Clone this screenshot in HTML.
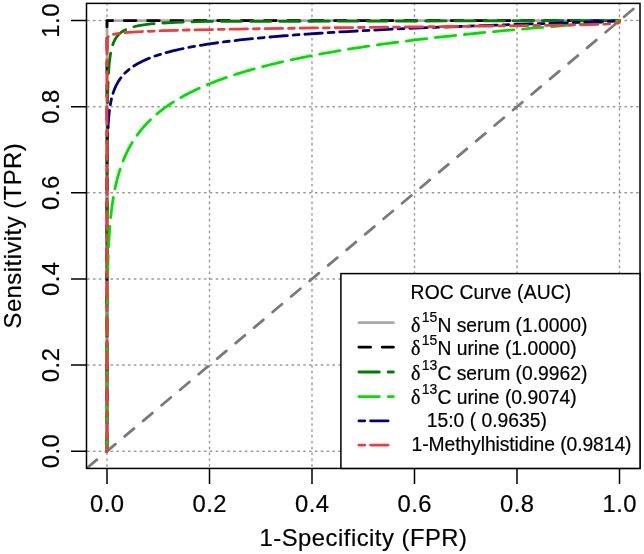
<!DOCTYPE html>
<html><head><meta charset="utf-8"><style>
html,body{margin:0;padding:0;background:#fff;}
body{width:644px;height:554px;overflow:hidden;}
svg{display:block;filter:blur(0.3px);font-family:"Liberation Sans",Arial,sans-serif;fill:#000;}
svg text{fill:#000;stroke:#000;stroke-width:0.2px;}
</style></head><body>
<svg width="644" height="554" viewBox="0 0 644 554">
<defs><clipPath id="pr"><rect x="86.50" y="3.38" width="553.50" height="465.05"/></clipPath></defs>
<path d="M107.00,3.38 L107.00,468.42 M209.50,3.38 L209.50,468.42 M312.00,3.38 L312.00,468.42 M414.50,3.38 L414.50,468.42 M517.00,3.38 L517.00,468.42 M619.50,3.38 L619.50,468.42" stroke="#999999" stroke-width="1.46" stroke-dasharray="1.46 4.38" stroke-linecap="round" fill="none"/>
<path d="M86.50,451.20 L640.00,451.20 M86.50,365.08 L640.00,365.08 M86.50,278.96 L640.00,278.96 M86.50,192.84 L640.00,192.84 M86.50,106.72 L640.00,106.72 M86.50,20.60 L640.00,20.60" stroke="#999999" stroke-width="1.46" stroke-dasharray="1.46 4.38" stroke-dashoffset="-1.2" stroke-linecap="round" fill="none"/>
<g clip-path="url(#pr)"><path d="M86.50,468.42 L640.00,3.38" stroke="#7A7A7A" stroke-width="2.80" stroke-dasharray="12.08 12.08" stroke-dashoffset="-1.5" stroke-linecap="round" fill="none"/>
<path d="M107.00,451.20 L107.00,450.36 L107.00,449.51 L107.00,448.67 L107.00,447.83 L107.00,446.99 L107.00,446.14 L107.00,445.30 L107.00,444.46 L107.00,443.62 L107.00,442.77 L107.00,441.93 L107.00,441.09 L107.00,440.25 L107.00,439.40 L107.00,438.56 L107.00,437.72 L107.00,436.87 L107.00,436.03 L107.00,435.19 L107.00,434.35 L107.00,433.50 L107.00,432.66 L107.00,431.82 L107.00,430.98 L107.00,430.13 L107.00,429.29 L107.00,428.45 L107.00,427.61 L107.00,426.76 L107.00,425.92 L107.00,425.08 L107.00,424.23 L107.00,423.39 L107.00,422.55 L107.00,421.71 L107.00,420.86 L107.00,420.02 L107.00,419.18 L107.00,418.34 L107.00,417.49 L107.00,416.65 L107.00,415.81 L107.00,414.97 L107.00,414.12 L107.00,413.28 L107.00,412.44 L107.00,411.59 L107.00,410.75 L107.00,409.91 L107.00,409.07 L107.00,408.22 L107.00,407.38 L107.00,406.54 L107.00,405.70 L107.00,404.85 L107.00,404.01 L107.00,403.17 L107.00,402.33 L107.00,401.48 L107.00,400.64 L107.00,399.80 L107.00,398.95 L107.00,398.11 L107.00,397.27 L107.00,396.43 L107.00,395.58 L107.00,394.74 L107.00,393.90 L107.00,393.06 L107.00,392.21 L107.00,391.37 L107.00,390.53 L107.00,389.69 L107.00,388.84 L107.00,388.00 L107.00,387.16 L107.00,386.32 L107.00,385.47 L107.00,384.63 L107.00,383.79 L107.00,382.94 L107.00,382.10 L107.00,381.26 L107.00,380.42 L107.00,379.57 L107.00,378.73 L107.00,377.89 L107.00,377.05 L107.00,376.20 L107.00,375.36 L107.00,374.52 L107.00,373.68 L107.00,372.83 L107.00,371.99 L107.00,371.15 L107.00,370.30 L107.00,369.46 L107.00,368.62 L107.00,367.78 L107.00,366.93 L107.00,366.09 L107.00,365.25 L107.00,364.41 L107.00,363.56 L107.00,362.72 L107.00,361.88 L107.00,361.04 L107.00,360.19 L107.00,359.35 L107.00,358.51 L107.00,357.66 L107.00,356.82 L107.00,355.98 L107.00,355.14 L107.00,354.29 L107.00,353.45 L107.00,352.61 L107.00,351.77 L107.00,350.92 L107.00,350.08 L107.00,349.24 L107.00,348.40 L107.00,347.55 L107.00,346.71 L107.00,345.87 L107.00,345.02 L107.00,344.18 L107.00,343.34 L107.00,342.50 L107.00,341.65 L107.00,340.81 L107.00,339.97 L107.00,339.13 L107.00,338.28 L107.00,337.44 L107.00,336.60 L107.00,335.76 L107.00,334.91 L107.00,334.07 L107.00,333.23 L107.00,332.38 L107.00,331.54 L107.00,330.70 L107.00,329.86 L107.00,329.01 L107.00,328.17 L107.00,327.33 L107.00,326.49 L107.00,325.64 L107.00,324.80 L107.00,323.96 L107.00,323.12 L107.00,322.27 L107.00,321.43 L107.00,320.59 L107.00,319.74 L107.00,318.90 L107.00,318.06 L107.00,317.22 L107.00,316.37 L107.00,315.53 L107.00,314.69 L107.00,313.85 L107.00,313.00 L107.00,312.16 L107.00,311.32 L107.00,310.48 L107.00,309.63 L107.00,308.79 L107.00,307.95 L107.00,307.10 L107.00,306.26 L107.00,305.42 L107.00,304.58 L107.00,303.73 L107.00,302.89 L107.00,302.05 L107.00,301.21 L107.00,300.36 L107.00,299.52 L107.00,298.68 L107.00,297.84 L107.00,296.99 L107.00,296.15 L107.00,295.31 L107.00,294.46 L107.00,293.62 L107.00,292.78 L107.00,291.94 L107.00,291.09 L107.00,290.25 L107.00,289.41 L107.00,288.57 L107.00,287.72 L107.00,286.88 L107.00,286.04 L107.00,285.20 L107.00,284.35 L107.00,283.51 L107.00,282.67 L107.00,281.83 L107.00,280.98 L107.00,280.14 L107.00,279.30 L107.00,278.45 L107.00,277.61 L107.00,276.77 L107.00,275.93 L107.00,275.08 L107.00,274.24 L107.00,273.40 L107.00,272.56 L107.00,271.71 L107.00,270.87 L107.00,270.03 L107.00,269.19 L107.00,268.34 L107.00,267.50 L107.00,266.66 L107.00,265.81 L107.00,264.97 L107.00,264.13 L107.00,263.29 L107.00,262.44 L107.00,261.60 L107.00,260.76 L107.00,259.92 L107.00,259.07 L107.00,258.23 L107.00,257.39 L107.00,256.55 L107.00,255.70 L107.00,254.86 L107.00,254.02 L107.00,253.17 L107.00,252.33 L107.00,251.49 L107.00,250.65 L107.00,249.80 L107.00,248.96 L107.00,248.12 L107.00,247.28 L107.00,246.43 L107.00,245.59 L107.00,244.75 L107.00,243.91 L107.00,243.06 L107.00,242.22 L107.00,241.38 L107.00,240.53 L107.00,239.69 L107.00,238.85 L107.00,238.01 L107.00,237.16 L107.00,236.32 L107.00,235.48 L107.00,234.64 L107.00,233.79 L107.00,232.95 L107.00,232.11 L107.00,231.27 L107.00,230.42 L107.00,229.58 L107.00,228.74 L107.01,227.89 L107.01,227.05 L107.01,226.21 L107.01,225.37 L107.01,224.52 L107.01,223.68 L107.01,222.84 L107.01,222.00 L107.01,221.15 L107.01,220.31 L107.01,219.47 L107.01,218.63 L107.01,217.78 L107.01,216.94 L107.01,216.10 L107.01,215.25 L107.01,214.41 L107.01,213.57 L107.01,212.73 L107.01,211.88 L107.01,211.04 L107.01,210.20 L107.01,209.36 L107.01,208.51 L107.02,207.67 L107.02,206.83 L107.02,205.99 L107.02,205.14 L107.02,204.30 L107.02,203.46 L107.02,202.61 L107.02,201.77 L107.02,200.93 L107.02,200.09 L107.02,199.24 L107.03,198.40 L107.03,197.56 L107.03,196.72 L107.03,195.87 L107.03,195.03 L107.03,194.19 L107.03,193.35 L107.04,192.50 L107.04,191.66 L107.04,190.82 L107.04,189.97 L107.04,189.13 L107.04,188.29 L107.05,187.45 L107.05,186.60 L107.05,185.76 L107.05,184.92 L107.06,184.08 L107.06,183.23 L107.06,182.39 L107.06,181.55 L107.07,180.71 L107.07,179.86 L107.07,179.02 L107.08,178.18 L107.08,177.34 L107.08,176.49 L107.09,175.65 L107.09,174.81 L107.09,173.96 L107.10,173.12 L107.10,172.28 L107.11,171.44 L107.11,170.59 L107.12,169.75 L107.12,168.91 L107.13,168.07 L107.13,167.22 L107.14,166.38 L107.15,165.54 L107.15,164.70 L107.16,163.85 L107.17,163.01 L107.17,162.17 L107.18,161.32 L107.19,160.48 L107.20,159.64 L107.21,158.80 L107.22,157.95 L107.23,157.11 L107.24,156.27 L107.25,155.43 L107.26,154.58 L107.27,153.74 L107.28,152.90 L107.29,152.06 L107.31,151.21 L107.32,150.37 L107.33,149.53 L107.35,148.68 L107.36,147.84 L107.38,147.00 L107.40,146.16 L107.41,145.31 L107.43,144.47 L107.45,143.63 L107.47,142.79 L107.49,141.94 L107.51,141.10 L107.54,140.26 L107.56,139.42 L107.58,138.57 L107.61,137.73 L107.64,136.89 L107.67,136.04 L107.69,135.20 L107.72,134.36 L107.76,133.52 L107.79,132.67 L107.82,131.83 L107.86,130.99 L107.90,130.15 L107.94,129.30 L107.98,128.46 L108.02,127.62" stroke="#000080" stroke-width="2.80" stroke-dasharray="5.84 5.84 17.52 5.84" stroke-dashoffset="3.7" stroke-linecap="round" stroke-linejoin="round" fill="none"/>
<path d="M619.50,20.60 L107.00,20.60 L107.00,451.20" stroke="#A9A9A9" stroke-width="2.80" stroke-linecap="round" stroke-linejoin="round" fill="none"/>
<path d="M619.50,20.60 L107.00,20.60 L107.00,451.20" stroke="#000000" stroke-width="2.80" stroke-dasharray="11.68 11.68" stroke-dashoffset="7.02" stroke-linecap="round" stroke-linejoin="round" fill="none"/>
<path d="M107.00,451.20 L107.00,450.36 L107.00,449.51 L107.00,448.67 L107.00,447.83 L107.00,446.99 L107.00,446.14 L107.00,445.30 L107.00,444.46 L107.00,443.62 L107.00,442.77 L107.00,441.93 L107.00,441.09 L107.00,440.25 L107.00,439.40 L107.00,438.56 L107.00,437.72 L107.00,436.87 L107.00,436.03 L107.00,435.19 L107.00,434.35 L107.00,433.50 L107.00,432.66 L107.00,431.82 L107.00,430.98 L107.00,430.13 L107.00,429.29 L107.00,428.45 L107.00,427.61 L107.00,426.76 L107.00,425.92 L107.00,425.08 L107.00,424.23 L107.00,423.39 L107.00,422.55 L107.00,421.71 L107.00,420.86 L107.00,420.02 L107.00,419.18 L107.00,418.34 L107.00,417.49 L107.00,416.65 L107.00,415.81 L107.00,414.97 L107.00,414.12 L107.00,413.28 L107.00,412.44 L107.00,411.59 L107.00,410.75 L107.00,409.91 L107.00,409.07 L107.00,408.22 L107.00,407.38 L107.00,406.54 L107.00,405.70 L107.00,404.85 L107.00,404.01 L107.00,403.17 L107.00,402.33 L107.00,401.48 L107.00,400.64 L107.00,399.80 L107.00,398.95 L107.00,398.11 L107.00,397.27 L107.00,396.43 L107.00,395.58 L107.00,394.74 L107.00,393.90 L107.00,393.06 L107.00,392.21 L107.00,391.37 L107.00,390.53 L107.00,389.69 L107.00,388.84 L107.00,388.00 L107.00,387.16 L107.00,386.32 L107.00,385.47 L107.00,384.63 L107.00,383.79 L107.00,382.94 L107.00,382.10 L107.00,381.26 L107.00,380.42 L107.00,379.57 L107.00,378.73 L107.00,377.89 L107.00,377.05 L107.00,376.20 L107.00,375.36 L107.00,374.52 L107.00,373.68 L107.00,372.83 L107.00,371.99 L107.00,371.15 L107.00,370.30 L107.00,369.46 L107.00,368.62 L107.00,367.78 L107.00,366.93 L107.00,366.09 L107.00,365.25 L107.00,364.41 L107.00,363.56 L107.00,362.72 L107.00,361.88 L107.00,361.04 L107.00,360.19 L107.00,359.35 L107.00,358.51 L107.00,357.66 L107.00,356.82 L107.00,355.98 L107.00,355.14 L107.00,354.29 L107.00,353.45 L107.00,352.61 L107.00,351.77 L107.00,350.92 L107.00,350.08 L107.00,349.24 L107.00,348.40 L107.00,347.55 L107.00,346.71 L107.00,345.87 L107.00,345.02 L107.00,344.18 L107.00,343.34 L107.00,342.50 L107.00,341.65 L107.00,340.81 L107.00,339.97 L107.00,339.13 L107.00,338.28 L107.00,337.44 L107.00,336.60 L107.00,335.76 L107.00,334.91 L107.00,334.07 L107.00,333.23 L107.00,332.38 L107.00,331.54 L107.00,330.70 L107.00,329.86 L107.00,329.01 L107.00,328.17 L107.00,327.33 L107.00,326.49 L107.00,325.64 L107.00,324.80 L107.00,323.96 L107.00,323.12 L107.00,322.27 L107.00,321.43 L107.00,320.59 L107.00,319.74 L107.00,318.90 L107.00,318.06 L107.00,317.22 L107.00,316.37 L107.00,315.53 L107.00,314.69 L107.00,313.85 L107.00,313.00 L107.00,312.16 L107.00,311.32 L107.00,310.48 L107.00,309.63 L107.00,308.79 L107.00,307.95 L107.00,307.10 L107.00,306.26 L107.00,305.42 L107.00,304.58 L107.00,303.73 L107.00,302.89 L107.00,302.05 L107.00,301.21 L107.00,300.36 L107.00,299.52 L107.00,298.68 L107.00,297.84 L107.00,296.99 L107.00,296.15 L107.00,295.31 L107.00,294.46 L107.00,293.62 L107.00,292.78 L107.00,291.94 L107.00,291.09 L107.00,290.25 L107.00,289.41 L107.00,288.57 L107.00,287.72 L107.00,286.88 L107.00,286.04 L107.00,285.20 L107.00,284.35 L107.00,283.51 L107.00,282.67 L107.00,281.83 L107.00,280.98 L107.00,280.14 L107.00,279.30 L107.00,278.45 L107.00,277.61 L107.00,276.77 L107.00,275.93 L107.00,275.08 L107.00,274.24 L107.01,273.40 L107.01,272.56 L107.01,271.71 L107.01,270.87 L107.01,270.03 L107.01,269.19 L107.01,268.34 L107.01,267.50 L107.01,266.66 L107.01,265.81 L107.01,264.97 L107.01,264.13 L107.01,263.29 L107.01,262.44 L107.01,261.60 L107.01,260.76 L107.01,259.92 L107.01,259.07 L107.01,258.23 L107.01,257.39 L107.01,256.55 L107.01,255.70 L107.01,254.86 L107.01,254.02 L107.01,253.17 L107.01,252.33 L107.01,251.49 L107.01,250.65 L107.01,249.80 L107.01,248.96 L107.01,248.12 L107.01,247.28 L107.01,246.43 L107.01,245.59 L107.01,244.75 L107.01,243.91 L107.01,243.06 L107.01,242.22 L107.01,241.38 L107.01,240.53 L107.01,239.69 L107.01,238.85 L107.01,238.01 L107.01,237.16 L107.01,236.32 L107.01,235.48 L107.02,234.64 L107.02,233.79 L107.02,232.95 L107.02,232.11 L107.02,231.27 L107.02,230.42 L107.02,229.58 L107.02,228.74 L107.02,227.89 L107.02,227.05 L107.02,226.21 L107.02,225.37 L107.02,224.52 L107.02,223.68 L107.02,222.84 L107.02,222.00 L107.02,221.15 L107.02,220.31 L107.02,219.47 L107.02,218.63 L107.02,217.78 L107.02,216.94 L107.02,216.10 L107.03,215.25 L107.03,214.41 L107.03,213.57 L107.03,212.73 L107.03,211.88 L107.03,211.04 L107.03,210.20 L107.03,209.36 L107.03,208.51 L107.03,207.67 L107.03,206.83 L107.03,205.99 L107.03,205.14 L107.03,204.30 L107.03,203.46 L107.04,202.61 L107.04,201.77 L107.04,200.93 L107.04,200.09 L107.04,199.24 L107.04,198.40 L107.04,197.56 L107.04,196.72 L107.04,195.87 L107.04,195.03 L107.04,194.19 L107.05,193.35 L107.05,192.50 L107.05,191.66 L107.05,190.82 L107.05,189.97 L107.05,189.13 L107.05,188.29 L107.05,187.45 L107.05,186.60 L107.06,185.76 L107.06,184.92 L107.06,184.08 L107.06,183.23 L107.06,182.39 L107.06,181.55 L107.06,180.71 L107.06,179.86 L107.07,179.02 L107.07,178.18 L107.07,177.34 L107.07,176.49 L107.07,175.65 L107.07,174.81 L107.08,173.96 L107.08,173.12 L107.08,172.28 L107.08,171.44 L107.08,170.59 L107.08,169.75 L107.09,168.91 L107.09,168.07 L107.09,167.22 L107.09,166.38 L107.09,165.54 L107.10,164.70 L107.10,163.85 L107.10,163.01 L107.10,162.17 L107.11,161.32 L107.11,160.48 L107.11,159.64 L107.11,158.80 L107.12,157.95 L107.12,157.11 L107.12,156.27 L107.12,155.43 L107.13,154.58 L107.13,153.74 L107.13,152.90 L107.14,152.06 L107.14,151.21 L107.14,150.37 L107.14,149.53 L107.15,148.68 L107.15,147.84 L107.16,147.00 L107.16,146.16 L107.16,145.31 L107.17,144.47 L107.17,143.63 L107.17,142.79 L107.18,141.94 L107.18,141.10 L107.19,140.26 L107.19,139.42 L107.20,138.57 L107.20,137.73 L107.21,136.89 L107.21,136.04 L107.21,135.20 L107.22,134.36 L107.23,133.52 L107.23,132.67 L107.24,131.83 L107.24,130.99 L107.25,130.15 L107.25,129.30 L107.26,128.46 L107.27,127.62 L107.27,126.78 L107.28,125.93 L107.29,125.09 L107.29,124.25 L107.30,123.40 L107.31,122.56 L107.32,121.72 L107.32,120.88 L107.33,120.03 L107.34,119.19 L107.35,118.35 L107.36,117.51 L107.37,116.66 L107.38,115.82 L107.38,114.98 L107.39,114.14 L107.40,113.29 L107.41,112.45 L107.43,111.61 L107.44,110.76 L107.45,109.92 L107.46,109.08 L107.47,108.24 L107.48,107.39 L107.50,106.55 L107.51,105.71 L107.52,104.87 L107.54,104.02 L107.55,103.18 L107.57,102.34 L107.58,101.50 L107.60,100.65 L107.61,99.81 L107.63,98.97 L107.65,98.12 L107.66,97.28 L107.68,96.44 L107.70,95.60 L107.72,94.75 L107.74,93.91 L107.76,93.07 L107.78,92.23 L107.81,91.38 L107.83,90.54 L107.85,89.70 L107.88,88.86 L107.90,88.01 L107.93,87.17 L107.96,86.33 L107.98,85.48 L108.01,84.64 L108.04,83.80 L108.08,82.96 L108.11,82.11 L108.14,81.27 L108.18,80.43 L108.21,79.59 L108.25,78.74 L108.29,77.90 L108.33,77.06 L108.37,76.22 L108.42,75.37 L108.46,74.53 L108.51,73.69 L108.56,72.85 L108.61,72.00 L108.67,71.16 L108.72,70.32 L108.78,69.47 L108.84,68.63 L108.91,67.79 L108.97,66.95 L109.04,66.10 L109.12,65.26 L109.19,64.42 L109.27,63.58 L109.35,62.73 L109.44,61.89 L109.53,61.05 L109.63,60.21 L109.73,59.36 L109.84,58.52 L109.95,57.68 L110.07,56.83 L110.19,55.99 L110.32,55.15 L110.46,54.31 L110.61,53.46 L110.76,52.62 L110.93,51.78 L111.10,50.94 L111.28,50.09 L111.48,49.25 L111.69,48.41 L111.91,47.57 L112.15,46.72 L112.40,45.88 L112.67,45.04 L112.96,44.19 L113.28,43.35 L113.61,42.51 L113.98,41.67 L114.37,40.82 L114.80,39.98 L115.26,39.14 L115.77,38.30 L116.33,37.45 L116.94,36.61 L117.61,35.77 L118.35,34.93 L119.18,34.08 L120.11,33.24 L121.15,32.40 L122.33,31.55 L123.68,30.71 L125.24,29.87 L127.05,29.03 L129.18,28.18 L131.74,27.34 L134.86,26.50 L138.76,25.66 L143.79,24.81 L150.56,23.97 L160.28,23.13 L175.86,22.29 L207.11,21.44 L619.50,20.60" stroke="#007C00" stroke-width="2.80" stroke-dasharray="20.44 8.76" stroke-dashoffset="1.9" stroke-linecap="round" stroke-linejoin="round" fill="none"/>
<path d="M107.00,451.20 L107.00,450.36 L107.00,449.51 L107.00,448.67 L107.00,447.83 L107.00,446.99 L107.00,446.14 L107.00,445.30 L107.00,444.46 L107.00,443.62 L107.00,442.77 L107.00,441.93 L107.00,441.09 L107.00,440.25 L107.00,439.40 L107.00,438.56 L107.00,437.72 L107.00,436.87 L107.00,436.03 L107.00,435.19 L107.00,434.35 L107.00,433.50 L107.00,432.66 L107.00,431.82 L107.00,430.98 L107.00,430.13 L107.00,429.29 L107.00,428.45 L107.00,427.61 L107.00,426.76 L107.00,425.92 L107.00,425.08 L107.00,424.23 L107.00,423.39 L107.00,422.55 L107.00,421.71 L107.00,420.86 L107.00,420.02 L107.00,419.18 L107.00,418.34 L107.00,417.49 L107.00,416.65 L107.00,415.81 L107.00,414.97 L107.00,414.12 L107.00,413.28 L107.00,412.44 L107.00,411.59 L107.00,410.75 L107.00,409.91 L107.00,409.07 L107.00,408.22 L107.00,407.38 L107.00,406.54 L107.00,405.70 L107.00,404.85 L107.00,404.01 L107.00,403.17 L107.00,402.33 L107.00,401.48 L107.00,400.64 L107.00,399.80 L107.00,398.95 L107.00,398.11 L107.00,397.27 L107.00,396.43 L107.00,395.58 L107.00,394.74 L107.00,393.90 L107.00,393.06 L107.00,392.21 L107.00,391.37 L107.00,390.53 L107.00,389.69 L107.00,388.84 L107.00,388.00 L107.00,387.16 L107.00,386.32 L107.00,385.47 L107.00,384.63 L107.00,383.79 L107.00,382.94 L107.00,382.10 L107.00,381.26 L107.00,380.42 L107.00,379.57 L107.01,378.73 L107.01,377.89 L107.01,377.05 L107.01,376.20 L107.01,375.36 L107.01,374.52 L107.01,373.68 L107.01,372.83 L107.01,371.99 L107.01,371.15 L107.01,370.30 L107.01,369.46 L107.01,368.62 L107.01,367.78 L107.01,366.93 L107.01,366.09 L107.01,365.25 L107.01,364.41 L107.01,363.56 L107.01,362.72 L107.02,361.88 L107.02,361.04 L107.02,360.19 L107.02,359.35 L107.02,358.51 L107.02,357.66 L107.02,356.82 L107.02,355.98 L107.02,355.14 L107.02,354.29 L107.02,353.45 L107.03,352.61 L107.03,351.77 L107.03,350.92 L107.03,350.08 L107.03,349.24 L107.03,348.40 L107.03,347.55 L107.04,346.71 L107.04,345.87 L107.04,345.02 L107.04,344.18 L107.04,343.34 L107.04,342.50 L107.05,341.65 L107.05,340.81 L107.05,339.97 L107.05,339.13 L107.05,338.28 L107.06,337.44 L107.06,336.60 L107.06,335.76 L107.06,334.91 L107.06,334.07 L107.07,333.23 L107.07,332.38 L107.07,331.54 L107.08,330.70 L107.08,329.86 L107.08,329.01 L107.08,328.17 L107.09,327.33 L107.09,326.49 L107.09,325.64 L107.10,324.80 L107.10,323.96 L107.11,323.12 L107.11,322.27 L107.11,321.43 L107.12,320.59 L107.12,319.74 L107.13,318.90 L107.13,318.06 L107.14,317.22 L107.14,316.37 L107.15,315.53 L107.15,314.69 L107.16,313.85 L107.16,313.00 L107.17,312.16 L107.17,311.32 L107.18,310.48 L107.18,309.63 L107.19,308.79 L107.20,307.95 L107.20,307.10 L107.21,306.26 L107.22,305.42 L107.23,304.58 L107.23,303.73 L107.24,302.89 L107.25,302.05 L107.26,301.21 L107.26,300.36 L107.27,299.52 L107.28,298.68 L107.29,297.84 L107.30,296.99 L107.31,296.15 L107.32,295.31 L107.33,294.46 L107.34,293.62 L107.35,292.78 L107.36,291.94 L107.37,291.09 L107.38,290.25 L107.40,289.41 L107.41,288.57 L107.42,287.72 L107.43,286.88 L107.45,286.04 L107.46,285.20 L107.47,284.35 L107.49,283.51 L107.50,282.67 L107.52,281.83 L107.53,280.98 L107.55,280.14 L107.56,279.30 L107.58,278.45 L107.60,277.61 L107.61,276.77 L107.63,275.93 L107.65,275.08 L107.67,274.24 L107.69,273.40 L107.71,272.56 L107.73,271.71 L107.75,270.87 L107.77,270.03 L107.79,269.19 L107.81,268.34 L107.84,267.50 L107.86,266.66 L107.88,265.81 L107.91,264.97 L107.93,264.13 L107.96,263.29 L107.98,262.44 L108.01,261.60 L108.04,260.76 L108.06,259.92 L108.09,259.07 L108.12,258.23 L108.15,257.39 L108.18,256.55 L108.22,255.70 L108.25,254.86 L108.28,254.02 L108.31,253.17 L108.35,252.33 L108.38,251.49 L108.42,250.65 L108.46,249.80 L108.49,248.96 L108.53,248.12 L108.57,247.28 L108.61,246.43 L108.66,245.59 L108.70,244.75 L108.74,243.91 L108.78,243.06 L108.83,242.22 L108.88,241.38 L108.92,240.53 L108.97,239.69 L109.02,238.85 L109.07,238.01 L109.12,237.16 L109.18,236.32 L109.23,235.48 L109.29,234.64 L109.34,233.79 L109.40,232.95 L109.46,232.11 L109.52,231.27 L109.58,230.42 L109.64,229.58 L109.71,228.74 L109.77,227.89 L109.84,227.05 L109.91,226.21 L109.98,225.37 L110.05,224.52 L110.12,223.68 L110.20,222.84 L110.28,222.00 L110.35,221.15 L110.43,220.31 L110.51,219.47 L110.60,218.63 L110.68,217.78 L110.77,216.94 L110.86,216.10 L110.95,215.25 L111.04,214.41 L111.13,213.57 L111.23,212.73 L111.33,211.88 L111.43,211.04 L111.53,210.20 L111.64,209.36 L111.74,208.51 L111.85,207.67 L111.96,206.83 L112.08,205.99 L112.19,205.14 L112.31,204.30 L112.43,203.46 L112.56,202.61 L112.68,201.77 L112.81,200.93 L112.94,200.09 L113.07,199.24 L113.21,198.40 L113.35,197.56 L113.49,196.72 L113.64,195.87 L113.79,195.03 L113.94,194.19 L114.09,193.35 L114.25,192.50 L114.41,191.66 L114.57,190.82 L114.74,189.97 L114.91,189.13 L115.09,188.29 L115.26,187.45 L115.44,186.60 L115.63,185.76 L115.82,184.92 L116.01,184.08 L116.21,183.23 L116.41,182.39 L116.61,181.55 L116.82,180.71 L117.03,179.86 L117.25,179.02 L117.47,178.18 L117.70,177.34 L117.93,176.49 L118.16,175.65 L118.40,174.81 L118.65,173.96 L118.90,173.12 L119.15,172.28 L119.41,171.44 L119.67,170.59 L119.94,169.75 L120.22,168.91 L120.50,168.07 L120.79,167.22 L121.08,166.38 L121.38,165.54 L121.68,164.70 L121.99,163.85 L122.31,163.01 L122.63,162.17 L122.96,161.32 L123.29,160.48 L123.63,159.64 L123.98,158.80 L124.34,157.95 L124.70,157.11 L125.07,156.27 L125.45,155.43 L125.83,154.58 L126.22,153.74 L126.62,152.90 L127.03,152.06 L127.44,151.21 L127.87,150.37 L128.30,149.53 L128.74,148.68 L129.19,147.84 L129.65,147.00 L130.12,146.16 L130.59,145.31 L131.08,144.47 L131.57,143.63 L132.08,142.79 L132.60,141.94 L133.12,141.10 L133.66,140.26 L134.20,139.42 L134.76,138.57 L135.33,137.73 L135.91,136.89 L136.50,136.04 L137.10,135.20 L137.72,134.36 L138.35,133.52 L138.98,132.67 L139.64,131.83 L140.30,130.99 L140.98,130.15 L141.67,129.30 L142.38,128.46 L143.10,127.62 L143.83,126.78 L144.58,125.93 L145.34,125.09 L146.12,124.25 L146.91,123.40 L147.72,122.56 L148.55,121.72 L149.39,120.88 L150.25,120.03 L151.12,119.19 L152.02,118.35 L152.93,117.51 L153.86,116.66 L154.81,115.82 L155.77,114.98 L156.76,114.14 L157.77,113.29 L158.80,112.45 L159.84,111.61 L160.91,110.76 L162.00,109.92 L163.11,109.08 L164.25,108.24 L165.41,107.39 L166.59,106.55 L167.79,105.71 L169.02,104.87 L170.28,104.02 L171.56,103.18 L172.87,102.34 L174.20,101.50 L175.56,100.65 L176.95,99.81 L178.37,98.97 L179.81,98.12 L181.29,97.28 L182.79,96.44 L184.33,95.60 L185.90,94.75 L187.50,93.91 L189.14,93.07 L190.81,92.23 L192.51,91.38 L194.25,90.54 L196.03,89.70 L197.84,88.86 L199.70,88.01 L201.59,87.17 L203.52,86.33 L205.49,85.48 L207.51,84.64 L209.56,83.80 L211.66,82.96 L213.81,82.11 L216.00,81.27 L218.24,80.43 L220.53,79.59 L222.87,78.74 L225.25,77.90 L227.69,77.06 L230.19,76.22 L232.73,75.37 L235.34,74.53 L238.00,73.69 L240.72,72.85 L243.50,72.00 L246.34,71.16 L249.24,70.32 L252.21,69.47 L255.25,68.63 L258.35,67.79 L261.53,66.95 L264.78,66.10 L268.10,65.26 L271.49,64.42 L274.97,63.58 L278.53,62.73 L282.16,61.89 L285.89,61.05 L289.70,60.21 L293.59,59.36 L297.58,58.52 L301.67,57.68 L305.85,56.83 L310.13,55.99 L314.52,55.15 L319.01,54.31 L323.61,53.46 L328.32,52.62 L333.14,51.78 L338.09,50.94 L343.15,50.09 L348.34,49.25 L353.67,48.41 L359.12,47.57 L364.71,46.72 L370.45,45.88 L376.33,45.04 L382.36,44.19 L388.55,43.35 L394.90,42.51 L401.41,41.67 L408.09,40.82 L414.95,39.98 L421.98,39.14 L429.21,38.30 L436.63,37.45 L444.24,36.61 L452.06,35.77 L460.08,34.93 L468.32,34.08 L476.78,33.24 L485.46,32.40 L494.37,31.55 L503.51,30.71 L512.88,29.87 L522.48,29.03 L532.31,28.18 L542.35,27.34 L552.60,26.50 L563.01,25.66 L573.54,24.81 L584.10,23.97 L594.55,23.13 L604.62,22.29 L613.69,21.44 L619.50,20.60" stroke="#00E000" stroke-width="2.80" stroke-dasharray="20.44 8.76" stroke-linecap="round" stroke-linejoin="round" fill="none"/>
<path d="M108.02,127.62 L108.07,126.78 L108.11,125.93 L108.16,125.09 L108.22,124.25 L108.27,123.40 L108.32,122.56 L108.38,121.72 L108.44,120.88 L108.51,120.03 L108.57,119.19 L108.64,118.35 L108.72,117.51 L108.79,116.66 L108.87,115.82 L108.95,114.98 L109.04,114.14 L109.13,113.29 L109.23,112.45 L109.32,111.61 L109.43,110.76 L109.54,109.92 L109.65,109.08 L109.77,108.24 L109.89,107.39 L110.02,106.55 L110.15,105.71 L110.29,104.87 L110.44,104.02 L110.60,103.18 L110.76,102.34 L110.93,101.50 L111.10,100.65 L111.29,99.81 L111.48,98.97 L111.68,98.12 L111.90,97.28 L112.12,96.44 L112.35,95.60 L112.59,94.75 L112.85,93.91 L113.11,93.07 L113.39,92.23 L113.68,91.38 L113.99,90.54 L114.31,89.70 L114.64,88.86 L115.00,88.01 L115.36,87.17 L115.75,86.33 L116.16,85.48 L116.58,84.64 L117.03,83.80 L117.49,82.96 L117.98,82.11 L118.50,81.27 L119.03,80.43 L119.60,79.59 L120.19,78.74 L120.82,77.90 L121.47,77.06 L122.16,76.22 L122.88,75.37 L123.64,74.53 L124.43,73.69 L125.27,72.85 L126.15,72.00 L127.07,71.16 L128.04,70.32 L129.07,69.47 L130.14,68.63 L131.27,67.79 L132.47,66.95 L133.72,66.10 L135.04,65.26 L136.43,64.42 L137.90,63.58 L139.44,62.73 L141.07,61.89 L142.78,61.05 L144.59,60.21 L146.50,59.36 L148.52,58.52 L150.65,57.68 L152.89,56.83 L155.27,55.99 L157.78,55.15 L160.43,54.31 L163.23,53.46 L166.20,52.62 L169.34,51.78 L172.67,50.94 L176.19,50.09 L179.92,49.25 L183.88,48.41 L188.07,47.57 L192.53,46.72 L197.25,45.88 L202.28,45.04 L207.61,44.19 L213.29,43.35 L219.32,42.51 L225.75,41.67 L232.60,40.82 L239.89,39.98 L247.67,39.14 L255.97,38.30 L264.83,37.45 L274.30,36.61 L284.43,35.77 L295.26,34.93 L306.86,34.08 L319.27,33.24 L332.59,32.40 L346.86,31.55 L362.17,30.71 L378.60,29.87 L396.23,29.03 L415.15,28.18 L435.42,27.34 L457.11,26.50 L480.25,25.66 L504.79,24.81 L530.57,23.97 L557.14,23.13 L583.46,22.29 L606.96,21.44 L619.50,20.60" stroke="#000080" stroke-width="2.80" stroke-dasharray="5.84 5.84 17.52 5.84" stroke-dashoffset="327.30" stroke-linecap="round" stroke-linejoin="round" fill="none"/>
<path d="M107.00,451.20 L107.00,450.36 L107.00,449.51 L107.00,448.67 L107.00,447.83 L107.00,446.99 L107.00,446.14 L107.00,445.30 L107.00,444.46 L107.00,443.62 L107.00,442.77 L107.00,441.93 L107.00,441.09 L107.00,440.25 L107.00,439.40 L107.00,438.56 L107.00,437.72 L107.00,436.87 L107.00,436.03 L107.00,435.19 L107.00,434.35 L107.00,433.50 L107.00,432.66 L107.00,431.82 L107.00,430.98 L107.00,430.13 L107.00,429.29 L107.00,428.45 L107.00,427.61 L107.00,426.76 L107.00,425.92 L107.00,425.08 L107.00,424.23 L107.00,423.39 L107.00,422.55 L107.00,421.71 L107.00,420.86 L107.00,420.02 L107.00,419.18 L107.00,418.34 L107.00,417.49 L107.00,416.65 L107.00,415.81 L107.00,414.97 L107.00,414.12 L107.00,413.28 L107.00,412.44 L107.00,411.59 L107.00,410.75 L107.00,409.91 L107.00,409.07 L107.00,408.22 L107.00,407.38 L107.00,406.54 L107.00,405.70 L107.00,404.85 L107.00,404.01 L107.00,403.17 L107.00,402.33 L107.00,401.48 L107.00,400.64 L107.00,399.80 L107.00,398.95 L107.00,398.11 L107.00,397.27 L107.00,396.43 L107.00,395.58 L107.00,394.74 L107.00,393.90 L107.00,393.06 L107.00,392.21 L107.00,391.37 L107.00,390.53 L107.00,389.69 L107.00,388.84 L107.00,388.00 L107.00,387.16 L107.00,386.32 L107.00,385.47 L107.00,384.63 L107.00,383.79 L107.00,382.94 L107.00,382.10 L107.00,381.26 L107.00,380.42 L107.00,379.57 L107.00,378.73 L107.00,377.89 L107.00,377.05 L107.00,376.20 L107.00,375.36 L107.00,374.52 L107.00,373.68 L107.00,372.83 L107.00,371.99 L107.00,371.15 L107.00,370.30 L107.00,369.46 L107.00,368.62 L107.00,367.78 L107.00,366.93 L107.00,366.09 L107.00,365.25 L107.00,364.41 L107.00,363.56 L107.00,362.72 L107.00,361.88 L107.00,361.04 L107.00,360.19 L107.00,359.35 L107.00,358.51 L107.00,357.66 L107.00,356.82 L107.00,355.98 L107.00,355.14 L107.00,354.29 L107.00,353.45 L107.00,352.61 L107.00,351.77 L107.00,350.92 L107.00,350.08 L107.00,349.24 L107.00,348.40 L107.00,347.55 L107.00,346.71 L107.00,345.87 L107.00,345.02 L107.00,344.18 L107.00,343.34 L107.00,342.50 L107.00,341.65 L107.00,340.81 L107.00,339.97 L107.00,339.13 L107.00,338.28 L107.00,337.44 L107.00,336.60 L107.00,335.76 L107.00,334.91 L107.00,334.07 L107.00,333.23 L107.00,332.38 L107.00,331.54 L107.00,330.70 L107.00,329.86 L107.00,329.01 L107.00,328.17 L107.00,327.33 L107.00,326.49 L107.00,325.64 L107.00,324.80 L107.00,323.96 L107.00,323.12 L107.00,322.27 L107.00,321.43 L107.00,320.59 L107.00,319.74 L107.00,318.90 L107.00,318.06 L107.00,317.22 L107.00,316.37 L107.00,315.53 L107.00,314.69 L107.00,313.85 L107.00,313.00 L107.00,312.16 L107.00,311.32 L107.00,310.48 L107.00,309.63 L107.00,308.79 L107.00,307.95 L107.00,307.10 L107.00,306.26 L107.00,305.42 L107.00,304.58 L107.00,303.73 L107.00,302.89 L107.00,302.05 L107.00,301.21 L107.00,300.36 L107.00,299.52 L107.00,298.68 L107.00,297.84 L107.00,296.99 L107.00,296.15 L107.00,295.31 L107.00,294.46 L107.00,293.62 L107.00,292.78 L107.00,291.94 L107.00,291.09 L107.00,290.25 L107.00,289.41 L107.00,288.57 L107.00,287.72 L107.00,286.88 L107.00,286.04 L107.00,285.20 L107.00,284.35 L107.00,283.51 L107.00,282.67 L107.00,281.83 L107.00,280.98 L107.00,280.14 L107.00,279.30 L107.00,278.45 L107.00,277.61 L107.00,276.77 L107.00,275.93 L107.00,275.08 L107.00,274.24 L107.00,273.40 L107.00,272.56 L107.00,271.71 L107.00,270.87 L107.00,270.03 L107.00,269.19 L107.00,268.34 L107.00,267.50 L107.00,266.66 L107.00,265.81 L107.00,264.97 L107.00,264.13 L107.00,263.29 L107.00,262.44 L107.00,261.60 L107.00,260.76 L107.00,259.92 L107.00,259.07 L107.00,258.23 L107.00,257.39 L107.00,256.55 L107.00,255.70 L107.00,254.86 L107.00,254.02 L107.00,253.17 L107.00,252.33 L107.00,251.49 L107.00,250.65 L107.00,249.80 L107.00,248.96 L107.00,248.12 L107.00,247.28 L107.00,246.43 L107.00,245.59 L107.00,244.75 L107.00,243.91 L107.00,243.06 L107.00,242.22 L107.00,241.38 L107.00,240.53 L107.00,239.69 L107.00,238.85 L107.00,238.01 L107.00,237.16 L107.00,236.32 L107.00,235.48 L107.00,234.64 L107.00,233.79 L107.00,232.95 L107.00,232.11 L107.00,231.27 L107.00,230.42 L107.00,229.58 L107.00,228.74 L107.00,227.89 L107.00,227.05 L107.00,226.21 L107.00,225.37 L107.00,224.52 L107.00,223.68 L107.00,222.84 L107.00,222.00 L107.00,221.15 L107.00,220.31 L107.00,219.47 L107.00,218.63 L107.00,217.78 L107.00,216.94 L107.00,216.10 L107.00,215.25 L107.00,214.41 L107.00,213.57 L107.00,212.73 L107.00,211.88 L107.00,211.04 L107.00,210.20 L107.00,209.36 L107.00,208.51 L107.00,207.67 L107.00,206.83 L107.00,205.99 L107.00,205.14 L107.00,204.30 L107.00,203.46 L107.00,202.61 L107.00,201.77 L107.00,200.93 L107.00,200.09 L107.00,199.24 L107.00,198.40 L107.00,197.56 L107.00,196.72 L107.00,195.87 L107.00,195.03 L107.00,194.19 L107.00,193.35 L107.00,192.50 L107.00,191.66 L107.00,190.82 L107.00,189.97 L107.00,189.13 L107.00,188.29 L107.00,187.45 L107.00,186.60 L107.00,185.76 L107.00,184.92 L107.00,184.08 L107.00,183.23 L107.00,182.39 L107.00,181.55 L107.00,180.71 L107.00,179.86 L107.00,179.02 L107.00,178.18 L107.00,177.34 L107.00,176.49 L107.00,175.65 L107.00,174.81 L107.00,173.96 L107.00,173.12 L107.00,172.28 L107.00,171.44 L107.00,170.59 L107.00,169.75 L107.00,168.91 L107.00,168.07 L107.00,167.22 L107.00,166.38 L107.00,165.54 L107.00,164.70 L107.00,163.85 L107.00,163.01 L107.00,162.17 L107.00,161.32 L107.00,160.48 L107.00,159.64 L107.00,158.80 L107.00,157.95 L107.00,157.11 L107.00,156.27 L107.00,155.43 L107.00,154.58 L107.00,153.74 L107.00,152.90 L107.00,152.06 L107.00,151.21 L107.00,150.37 L107.00,149.53 L107.00,148.68 L107.00,147.84 L107.00,147.00 L107.00,146.16 L107.00,145.31 L107.00,144.47 L107.00,143.63 L107.00,142.79 L107.00,141.94 L107.00,141.10 L107.00,140.26 L107.00,139.42 L107.00,138.57 L107.00,137.73 L107.00,136.89 L107.00,136.04 L107.00,135.20 L107.00,134.36 L107.00,133.52 L107.00,132.67 L107.00,131.83 L107.00,130.99 L107.00,130.15 L107.00,129.30 L107.00,128.46 L107.00,127.62 L107.00,126.78 L107.00,125.93 L107.00,125.09 L107.00,124.25 L107.00,123.40 L107.00,122.56 L107.00,121.72 L107.00,120.88 L107.00,120.03 L107.00,119.19 L107.00,118.35 L107.00,117.51 L107.00,116.66 L107.00,115.82 L107.00,114.98 L107.00,114.14 L107.00,113.29 L107.00,112.45 L107.00,111.61 L107.00,110.76 L107.00,109.92 L107.00,109.08 L107.00,108.24 L107.00,107.39 L107.00,106.55 L107.00,105.71 L107.00,104.87 L107.00,104.02 L107.00,103.18 L107.00,102.34 L107.00,101.50 L107.00,100.65 L107.00,99.81 L107.00,98.97 L107.00,98.12 L107.00,97.28 L107.00,96.44 L107.00,95.60 L107.00,94.75 L107.00,93.91 L107.00,93.07 L107.00,92.23 L107.00,91.38 L107.00,90.54 L107.00,89.70 L107.00,88.86 L107.00,88.01 L107.00,87.17 L107.00,86.33 L107.00,85.48 L107.00,84.64 L107.00,83.80 L107.00,82.96 L107.00,82.11 L107.00,81.27 L107.00,80.43 L107.00,79.59 L107.00,78.74 L107.00,77.90 L107.00,77.06 L107.00,76.22 L107.00,75.37 L107.00,74.53 L107.00,73.69 L107.00,72.85 L107.00,72.00 L107.00,71.16 L107.00,70.32 L107.00,69.47 L107.00,68.63 L107.00,67.79 L107.00,66.95 L107.00,66.10 L107.00,65.26 L107.00,64.42 L107.00,63.58 L107.00,62.73 L107.00,61.89 L107.00,61.05 L107.00,60.21 L107.00,59.36 L107.00,58.52 L107.00,57.68 L107.00,56.83 L107.00,55.99 L107.00,55.15 L107.00,54.31 L107.00,53.46 L107.00,52.62 L107.00,51.78 L107.00,50.94 L107.00,50.09 L107.00,49.25 L107.00,48.41 L107.00,47.57 L107.00,46.72 L107.00,45.88 L107.00,45.04 L107.01,44.19 L107.01,43.35 L107.02,42.51 L107.04,41.67 L107.08,40.82 L107.14,39.98 L107.25,39.14 L107.45,38.30 L107.80,37.45 L108.41,36.61 L109.48,35.77 L111.31,34.93 L114.42,34.08 L119.61,33.24 L128.13,32.40 L141.74,31.55 L162.84,30.71 L194.32,29.87 L238.99,29.03 L298.45,28.18 L371.20,27.34 L450.63,26.50 L524.73,25.66 L579.90,24.81 L609.21,23.97 L618.34,23.13 L619.48,22.29 L619.50,21.44 L619.50,20.60" stroke="#EE3B3B" stroke-width="2.80" stroke-dasharray="5.84 5.84 17.52 5.84" stroke-linecap="round" stroke-linejoin="round" fill="none"/>
</g>
<rect x="86.50" y="3.38" width="553.50" height="465.05" fill="none" stroke="#000" stroke-width="1.50"/>
<path d="M107.00,468.42 L107.00,483.92 M86.50,451.20 L71.00,451.20 M209.50,468.42 L209.50,483.92 M86.50,365.08 L71.00,365.08 M312.00,468.42 L312.00,483.92 M86.50,278.96 L71.00,278.96 M414.50,468.42 L414.50,483.92 M86.50,192.84 L71.00,192.84 M517.00,468.42 L517.00,483.92 M86.50,106.72 L71.00,106.72 M619.50,468.42 L619.50,483.92 M86.50,20.60 L71.00,20.60" stroke="#000" stroke-width="1.50" fill="none"/>
<text x="107.25" y="512.00" text-anchor="middle" font-size="23.80" letter-spacing="0.50">0.0</text>
<text transform="translate(58.50,450.95) rotate(-90)" text-anchor="middle" font-size="23.80" letter-spacing="0.50">0.0</text>
<text x="209.75" y="512.00" text-anchor="middle" font-size="23.80" letter-spacing="0.50">0.2</text>
<text transform="translate(58.50,364.83) rotate(-90)" text-anchor="middle" font-size="23.80" letter-spacing="0.50">0.2</text>
<text x="312.25" y="512.00" text-anchor="middle" font-size="23.80" letter-spacing="0.50">0.4</text>
<text transform="translate(58.50,278.71) rotate(-90)" text-anchor="middle" font-size="23.80" letter-spacing="0.50">0.4</text>
<text x="414.75" y="512.00" text-anchor="middle" font-size="23.80" letter-spacing="0.50">0.6</text>
<text transform="translate(58.50,192.59) rotate(-90)" text-anchor="middle" font-size="23.80" letter-spacing="0.50">0.6</text>
<text x="517.25" y="512.00" text-anchor="middle" font-size="23.80" letter-spacing="0.50">0.8</text>
<text transform="translate(58.50,106.47) rotate(-90)" text-anchor="middle" font-size="23.80" letter-spacing="0.50">0.8</text>
<text x="619.75" y="512.00" text-anchor="middle" font-size="23.80" letter-spacing="0.50">1.0</text>
<text transform="translate(58.50,20.35) rotate(-90)" text-anchor="middle" font-size="23.80" letter-spacing="0.50">1.0</text>
<text x="363.50" y="546.40" text-anchor="middle" font-size="23.80" letter-spacing="0.50">1-Specificity (FPR)</text>
<text transform="translate(21.00,235.65) rotate(-90)" text-anchor="middle" font-size="23.80" letter-spacing="0.50">Sensitivity (TPR)</text>
<rect x="340.90" y="273.60" width="299.10" height="194.82" fill="#fff" stroke="#000" stroke-width="1.50"/>
<text x="410.60" y="298.80" font-size="19.30" letter-spacing="0.15">ROC Curve (AUC)</text>
<path d="M358.90,322.70 L393.40,322.70" stroke="#A9A9A9" stroke-width="2.80" stroke-linecap="round" fill="none"/>
<text x="411.00" y="331.60" font-size="19.30"><tspan font-family="Liberation Serif" font-size="20" stroke="#000" stroke-width="0.3">δ</tspan><tspan font-size="14.0" dx="1.4" dy="-10.0">15</tspan><tspan dy="10.0">N serum (1.0000)</tspan></text>
<path d="M358.90,347.20 L393.40,347.20" stroke="#000000" stroke-width="2.80" stroke-dasharray="11.68 11.68" stroke-linecap="round" fill="none"/>
<text x="411.00" y="355.40" font-size="19.30"><tspan font-family="Liberation Serif" font-size="20" stroke="#000" stroke-width="0.3">δ</tspan><tspan font-size="14.0" dx="1.4" dy="-10.0">15</tspan><tspan dy="10.0">N urine (1.0000)</tspan></text>
<path d="M358.90,372.00 L393.40,372.00" stroke="#007C00" stroke-width="2.80" stroke-dasharray="20.44 8.76" stroke-linecap="round" fill="none"/>
<text x="411.00" y="379.90" font-size="19.30"><tspan font-family="Liberation Serif" font-size="20" stroke="#000" stroke-width="0.3">δ</tspan><tspan font-size="14.0" dx="1.4" dy="-10.0">13</tspan><tspan dy="10.0">C serum (0.9962)</tspan></text>
<path d="M358.90,396.60 L393.40,396.60" stroke="#00E000" stroke-width="2.80" stroke-dasharray="20.44 8.76" stroke-linecap="round" fill="none"/>
<text x="411.00" y="404.30" font-size="19.30"><tspan font-family="Liberation Serif" font-size="20" stroke="#000" stroke-width="0.3">δ</tspan><tspan font-size="14.0" dx="1.4" dy="-10.0">13</tspan><tspan dy="10.0">C urine (0.9074)</tspan></text>
<path d="M358.90,420.80 L393.40,420.80" stroke="#000080" stroke-width="2.80" stroke-dasharray="5.84 5.84 17.52 5.84" stroke-linecap="round" fill="none"/>
<text x="426.80" y="426.60" font-size="19.30">15:0 ( 0.9635)</text>
<path d="M358.90,445.10 L393.40,445.10" stroke="#EE3B3B" stroke-width="2.80" stroke-dasharray="5.84 5.84 17.52 5.84" stroke-linecap="round" fill="none"/>
<text x="411.60" y="450.60" font-size="19.30" letter-spacing="-0.08">1-Methylhistidine (0.9814)</text>
</svg>
</body></html>
